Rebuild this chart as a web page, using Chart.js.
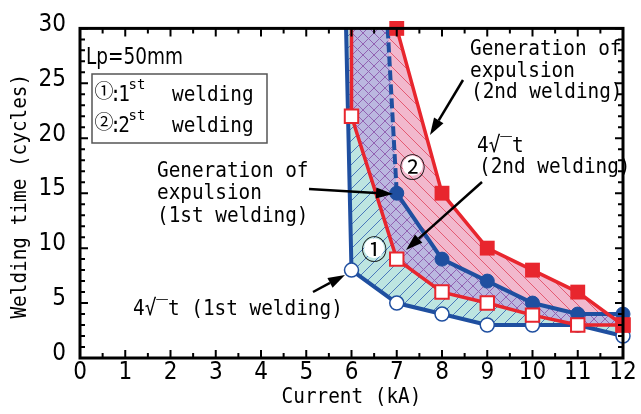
<!DOCTYPE html>
<html>
<head>
<meta charset="utf-8">
<script src="https://cdn.jsdelivr.net/npm/chart.js@4"></script>
<style>
  html, body { margin: 0; padding: 0; background: #fff; }
  canvas { display: block; }
</style>
</head>
<body>
<canvas id="chart" width="641" height="414"></canvas>
<script>
// current (kA) and welding time (cycles)
const current = [6, 7, 8, 9, 10, 11, 12];

// 1st welding: lower limit 4√t, upper limit = expulsion
const edge1X = [5.88];            // left edge of the band at the top of the axis
const edge1Y = [30];
const sqrtT1 = [8, 5, 4, 3, 3, 3, 2];
const expul1X = [6.8, 7, 8, 9, 10, 11, 12];
const expul1 = [30, 15, 9, 7, 5, 4, 4];

// 2nd welding
const sqrtT2X = [6, 6, 7, 8, 9, 10, 11, 12];
const sqrtT2 = [30, 22, 9, 6, 5, 3.9, 3, 3];
const expul2X = [7, 8, 9, 10, 11, 12];
const expul2 = [30, 15, 10, 8, 6, 3];

const xTicks = [0, 1, 2, 3, 4, 5, 6, 7, 8, 9, 10, 11, 12];
const yTicks = [0, 5, 10, 15, 20, 25, 30];

const BLUE = '#1f4fa0';
const RED = '#e8262e';
const MONO = "22px 'DejaVu Sans Mono'";
const SX = 0.88;

const pts = (xs, ys) => xs.map((x, i) => ({ x: x, y: ys[i] }));

const lower1 = () => pts(edge1X.concat(current), edge1Y.concat(sqrtT1));
const upper1 = () => pts(expul1X, expul1);
const lower2 = () => pts(sqrtT2X, sqrtT2);
const upper2 = () => pts(expul2X, expul2);

const canvas = document.getElementById('chart');
const ctx = canvas.getContext('2d');

function hatch(bg, color, size, dirs, lw) {
  const c = document.createElement('canvas');
  c.width = c.height = size;
  const g = c.getContext('2d');
  g.fillStyle = bg;
  g.fillRect(0, 0, size, size);
  g.strokeStyle = color;
  g.lineWidth = lw;
  g.beginPath();
  if (dirs.includes('/')) {
    g.moveTo(0, size); g.lineTo(size, 0);
    g.moveTo(-1, 1); g.lineTo(1, -1);
    g.moveTo(size - 1, size + 1); g.lineTo(size + 1, size - 1);
  }
  if (dirs.includes('\\')) {
    g.moveTo(0, 0); g.lineTo(size, size);
    g.moveTo(-1, size - 1); g.lineTo(1, size + 1);
    g.moveTo(size - 1, -1); g.lineTo(size + 1, 1);
  }
  g.stroke();
  return ctx.createPattern(c, 'repeat');
}

const cyanHatch = hatch('#bde5e1', '#4a78bb', 12, '/', 1);
const pinkHatch = hatch('#f2b8cd', '#e45a72', 13, '\\', 1);
const purpleHatch = hatch('#bbb8e0', '#9262b2', 11, '/\\', 1);

function squeeze(c, str, x, y) {
  c.save();
  c.translate(x, y);
  c.scale(SX, 1);
  c.fillText(str, 0, 0);
  c.restore();
}

function arrow(c, x1, y1, x2, y2) {
  const a = Math.atan2(y2 - y1, x2 - x1), L = 17, W = 5.5;
  const bx = x2 - L * Math.cos(a), by = y2 - L * Math.sin(a);
  c.beginPath();
  c.moveTo(x1, y1);
  c.lineTo(bx, by);
  c.stroke();
  c.beginPath();
  c.moveTo(x2, y2);
  c.lineTo(bx + W * Math.sin(a), by - W * Math.cos(a));
  c.lineTo(bx - W * Math.sin(a), by + W * Math.cos(a));
  c.closePath();
  c.fill();
}

function circled(c, ch, x, y, r, size) {
  c.fillStyle = '#fff';
  c.beginPath();
  c.arc(x, y, r, 0, Math.PI * 2);
  c.fill();
  c.fillStyle = '#000';
  c.font = size + "px 'Noto Sans CJK JP'";
  c.textAlign = 'center';
  c.textBaseline = 'middle';
  c.fillText(ch, x, y + 1);
}

// frame, inward ticks, legend box, notes and arrows
const decor = {
  id: 'decor',
  afterDraw(chart) {
    const c = chart.ctx;
    const a = chart.chartArea;
    const x = chart.scales.x, y = chart.scales.y;
    c.save();
    c.strokeStyle = '#000';
    c.lineWidth = 2;
    c.beginPath();
    for (let v = 0; v <= 12; v += 0.5) {
      const px = x.getPixelForValue(v);
      const len = v % 1 ? 5 : 8;
      c.moveTo(px, a.bottom); c.lineTo(px, a.bottom - len);
      c.moveTo(px, a.top); c.lineTo(px, a.top + len);
    }
    for (let v = 0; v <= 30; v++) {
      const py = y.getPixelForValue(v);
      const len = v % 5 ? 5 : 8;
      c.moveTo(a.left, py); c.lineTo(a.left + len, py);
      c.moveTo(a.right, py); c.lineTo(a.right - len, py);
    }
    c.stroke();
    c.lineWidth = 3;
    c.strokeRect(a.left, a.top, a.right - a.left, a.bottom - a.top);

    // axis titles
    c.fillStyle = '#000';
    c.font = MONO;
    c.textAlign = 'center';
    c.textBaseline = 'alphabetic';
    squeeze(c, 'Current (kA)', (a.left + a.right) / 2, 403);
    c.save();
    c.translate(25.5, (a.top + a.bottom) / 2 + 3);
    c.rotate(-Math.PI / 2);
    squeeze(c, 'Welding time (cycles)', 0, 0);
    c.restore();

    // Lp label
    c.textAlign = 'left';
    c.font = "23px 'Liberation Sans Narrow', 'DejaVu Sans Condensed', sans-serif";
    const lp = 'Lp=50mm';
    c.save();
    c.translate(86, 64);
    c.scale(97 / c.measureText(lp).width, 1);
    c.fillText(lp, 0, 0);
    c.restore();

    // legend box
    c.fillStyle = '#fff';
    c.fillRect(92, 74, 175, 69);
    c.strokeStyle = '#555';
    c.lineWidth = 1.5;
    c.strokeRect(92, 74, 175, 69);
    [['①', '1', 101], ['②', '2', 132]].forEach(([sym, num, base]) => {
      c.fillStyle = '#000';
      c.font = "19px 'Noto Sans CJK JP'";
      c.textAlign = 'center';
      c.textBaseline = 'middle';
      c.fillText(sym, 104, base - 10);
      c.textBaseline = 'alphabetic';
      c.font = MONO;
      squeeze(c, ':', 115.5, base);
      squeeze(c, num, 124, base);
      c.font = "14px 'DejaVu Sans Mono'";
      c.fillText('st', 137, base - 12);
      c.textAlign = 'left';
      c.font = MONO;
      squeeze(c, 'welding', 172, base);
    });

    // notes
    c.fillStyle = '#000';
    c.textAlign = 'left';
    c.textBaseline = 'alphabetic';
    c.font = MONO;
    squeeze(c, 'Generation of', 157, 177);
    squeeze(c, 'expulsion', 157, 199);
    squeeze(c, '(1st welding)', 157, 222);
    squeeze(c, '4√‾t (1st welding)', 133, 315);
    squeeze(c, 'Generation of', 470, 55);
    squeeze(c, 'expulsion', 470, 77);
    squeeze(c, '(2nd welding)', 471, 98);
    squeeze(c, '4√‾t', 477, 152);
    squeeze(c, '(2nd welding)', 479, 173);

    c.strokeStyle = '#000';
    c.lineWidth = 2.5;
    arrow(c, 309, 189, 393, 194);
    arrow(c, 313, 292, 345, 275);
    arrow(c, 463, 80, 430, 135);
    arrow(c, 482, 182, 406, 250);

    circled(c, '①', x.getPixelForValue(6.5), y.getPixelForValue(10), 10, 26);
    circled(c, '②', x.getPixelForValue(7.35), y.getPixelForValue(17.5), 10, 26);
    c.restore();
  }
};

const tickFont = { family: "'Liberation Sans Narrow', 'DejaVu Sans Condensed', sans-serif", size: 24 };

new Chart(canvas, {
  type: 'line',
  data: {
    datasets: [
      { // 1st welding band
        data: lower1().concat(upper1().reverse()),
        fill: 'shape', backgroundColor: cyanHatch, borderColor: 'transparent',
        pointRadius: 0, order: 30
      },
      { // 2nd welding band
        data: lower2().concat(upper2().reverse()),
        fill: 'shape', backgroundColor: pinkHatch, borderColor: 'transparent',
        pointRadius: 0, order: 29
      },
      { // overlap of both bands
        data: lower2().concat(upper1().reverse()),
        fill: 'shape', backgroundColor: purpleHatch, borderColor: 'transparent',
        pointRadius: 0, order: 28
      },
      { // 4√t, 1st welding
        data: lower1(),
        borderColor: BLUE, borderWidth: 4,
        pointRadius: [0, 7, 7, 7, 7, 7, 7, 7],
        pointBackgroundColor: '#fff', pointBorderColor: BLUE, pointBorderWidth: 1.5,
        clip: false, order: 12
      },
      { // expulsion, 1st welding
        data: upper1(),
        borderColor: BLUE, borderWidth: 4,
        segment: { borderDash: s => s.p0DataIndex === 0 ? [10, 4] : undefined },
        pointRadius: [0, 7, 7, 7, 7, 7, 7],
        pointBackgroundColor: BLUE, pointBorderColor: BLUE, pointBorderWidth: 1,
        clip: false, order: 11
      },
      { // 4√t, 2nd welding
        data: lower2(),
        borderColor: RED, borderWidth: 3.5,
        pointStyle: 'rect',
        pointRadius: [0, 9.5, 9.5, 9.5, 9.5, 9.5, 9.5, 9.5],
        pointBackgroundColor: '#fff', pointBorderColor: RED, pointBorderWidth: 2,
        clip: false, order: 5
      },
      { // expulsion, 2nd welding
        data: upper2(),
        borderColor: RED, borderWidth: 3.5,
        pointStyle: 'rect', pointRadius: 10.5,
        pointBackgroundColor: RED, pointBorderColor: RED, pointBorderWidth: 0,
        clip: false, order: 4
      }
    ]
  },
  options: {
    responsive: false,
    animation: false,
    events: [],
    layout: { padding: { top: 26, right: 18, left: 0, bottom: 0 } },
    plugins: { legend: { display: false }, tooltip: { enabled: false } },
    elements: { line: { tension: 0 } },
    scales: {
      x: {
        type: 'linear', min: 0, max: 12,
        afterFit: s => { s.height = 56; },
        afterBuildTicks: s => { s.ticks = xTicks.map(v => ({ value: v })); },
        grid: { display: false, drawTicks: false },
        border: { display: false },
        ticks: { color: '#000', font: tickFont, padding: 0, maxRotation: 0, autoSkip: false }
      },
      y: {
        type: 'linear', min: 0, max: 30,
        afterFit: s => { s.width = 80; },
        afterBuildTicks: s => { s.ticks = yTicks.map(v => ({ value: v })); },
        grid: { display: false, drawTicks: false },
        border: { display: false },
        ticks: { color: '#000', font: tickFont, padding: 14, labelOffset: -4, autoSkip: false }
      }
    }
  },
  plugins: [decor]
});
</script>
</body>
</html>
